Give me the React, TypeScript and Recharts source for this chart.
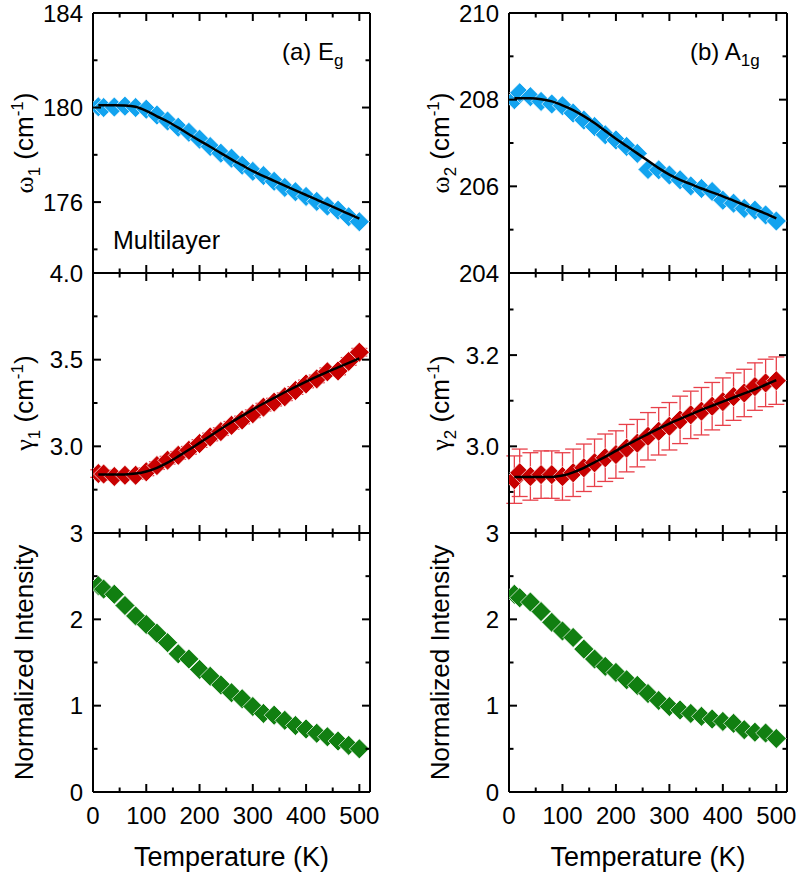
import React from "react"
import { ComposedChart, Scatter, XAxis, YAxis, ErrorBar } from "recharts"

const FONT = "'Liberation Sans', Arial, sans-serif"
const SYM = "'Liberation Serif', 'DejaVu Serif', serif"

// temperatures (K)
const temps = [10, 20, 40, 60, 80, 100, 120, 140, 160, 180, 200, 220, 240, 260, 280, 300, 320, 340, 360, 380, 400, 420, 440, 460, 480, 500]

// (a) Eg
const omega1 = [180.03, 180.0, 180.02, 180.06, 180.0, 179.93, 179.68, 179.43, 179.17, 178.95, 178.66, 178.35, 178.07, 177.86, 177.56, 177.3, 177.12, 176.88, 176.62, 176.44, 176.24, 176.03, 175.83, 175.66, 175.38, 175.17]
const omega1Fit = [180.1, 180.1, 180.1, 180.09, 180.03, 179.86, 179.63, 179.41, 179.15, 178.87, 178.6, 178.34, 178.07, 177.81, 177.56, 177.31, 177.1, 176.9, 176.7, 176.5, 176.3, 176.1, 175.9, 175.7, 175.5, 175.3]
const gamma1 = [2.843, 2.84, 2.826, 2.833, 2.833, 2.853, 2.889, 2.92, 2.948, 2.977, 3.016, 3.054, 3.085, 3.121, 3.152, 3.188, 3.226, 3.255, 3.286, 3.322, 3.36, 3.389, 3.43, 3.435, 3.49, 3.543]
const gamma1Err = [0.022, 0.022, 0.022, 0.022, 0.022, 0.022, 0.022, 0.022, 0.022, 0.022, 0.022, 0.022, 0.022, 0.022, 0.022, 0.022, 0.022, 0.022, 0.022, 0.022, 0.022, 0.022, 0.022, 0.022, 0.022, 0.022]
const gamma1Fit = [2.837, 2.837, 2.837, 2.838, 2.843, 2.855, 2.876, 2.906, 2.942, 2.98, 3.02, 3.06, 3.1, 3.139, 3.176, 3.212, 3.247, 3.28, 3.312, 3.343, 3.373, 3.402, 3.43, 3.456, 3.482, 3.508]
const intensity1 = [2.39, 2.35, 2.29, 2.16, 2.04, 1.94, 1.84, 1.73, 1.6, 1.54, 1.42, 1.34, 1.24, 1.15, 1.08, 0.99, 0.91, 0.89, 0.83, 0.77, 0.73, 0.68, 0.64, 0.59, 0.54, 0.5]

// (b) A1g
const omega2 = [208.0, 208.16, 208.07, 207.96, 207.9, 207.86, 207.69, 207.53, 207.38, 207.19, 207.07, 206.92, 206.76, 206.39, 206.38, 206.26, 206.15, 206.01, 205.95, 205.88, 205.68, 205.61, 205.49, 205.45, 205.34, 205.2]
const omega2Fit = [208.03, 208.03, 208.03, 208.01, 207.96, 207.87, 207.76, 207.62, 207.46, 207.28, 207.1, 206.93, 206.76, 206.59, 206.42, 206.27, 206.15, 206.05, 205.95, 205.86, 205.77, 205.67, 205.57, 205.47, 205.37, 205.26]
const gamma2 = [2.927, 2.942, 2.934, 2.938, 2.938, 2.934, 2.942, 2.953, 2.964, 2.975, 2.982, 2.996, 3.007, 3.022, 3.033, 3.044, 3.058, 3.069, 3.077, 3.088, 3.098, 3.109, 3.117, 3.131, 3.139, 3.144]
const gamma2Err = [0.052, 0.052, 0.052, 0.052, 0.052, 0.052, 0.052, 0.052, 0.052, 0.052, 0.052, 0.052, 0.052, 0.052, 0.052, 0.052, 0.052, 0.052, 0.052, 0.052, 0.052, 0.052, 0.052, 0.052, 0.052, 0.052]
const gamma2Fit = [2.933, 2.933, 2.933, 2.933, 2.933, 2.936, 2.943, 2.953, 2.965, 2.977, 2.99, 3.003, 3.015, 3.027, 3.039, 3.05, 3.06, 3.07, 3.08, 3.089, 3.098, 3.107, 3.116, 3.125, 3.135, 3.145]
const intensity2 = [2.29, 2.25, 2.2, 2.09, 1.965, 1.865, 1.79, 1.655, 1.54, 1.455, 1.385, 1.3, 1.235, 1.14, 1.06, 0.99, 0.95, 0.91, 0.876, 0.845, 0.818, 0.795, 0.722, 0.693, 0.683, 0.62]

const xTicks = [0, 50, 100, 150, 200, 250, 300, 350, 400, 450, 500]
const xMajor = [0, 100, 200, 300, 400, 500]

const BLUE = "#12a3ef"
const RED = "#c80000"
const GREEN = "#117f11"
const ERR = "#e8404a"

const near = (list: number[], v: number) => list.some((m) => Math.abs(m - v) < 1e-6)

const rows = (vals: number[], err?: number[]) =>
  temps.map((T, i) => ({ T, v: vals[i], e: err ? err[i] : 0 }))

function diamond(color: string) {
  return (p: any) => {
    const { cx, cy } = p
    const r = 10
    return (
      <path
        d={`M${cx},${cy - r}L${cx + r},${cy}L${cx},${cy + r}L${cx - r},${cy}Z`}
        fill={color}
        stroke="#fff"
        strokeWidth={0.7}
      />
    )
  }
}

const noDot = () => <g />

function yTick(side: "left" | "right", major: number[], labeled: number[], fmt: (v: number) => string) {
  return (p: any) => {
    const v = p.payload.value
    const len = near(major, v) ? 8 : 4.5
    const dir = side === "left" ? 1 : -1
    return (
      <g>
        <line x1={p.x} x2={p.x + dir * len} y1={p.y} y2={p.y} stroke="#000" strokeWidth={2} />
        {side === "left" && near(labeled, v) ? (
          <text x={p.x - 10} y={p.y} dy="0.36em" textAnchor="end" fontSize={24} fontFamily={FONT} fill="#000">
            {fmt(v)}
          </text>
        ) : null}
      </g>
    )
  }
}

function xTick(side: "top" | "bottom", showLabels: boolean) {
  return (p: any) => {
    const v = p.payload.value
    const len = near(xMajor, v) ? 8 : 4.5
    const dir = side === "top" ? 1 : -1
    return (
      <g>
        <line x1={p.x} x2={p.x} y1={p.y} y2={p.y + dir * len} stroke="#000" strokeWidth={2} />
        {side === "bottom" && showLabels && near(xMajor, v) ? (
          <text x={p.x} y={p.y + 32} textAnchor="middle" fontSize={24} fontFamily={FONT} fill="#000">
            {v}
          </text>
        ) : null}
      </g>
    )
  }
}

function RotTitle({ cx, cy, size = 26, children }: { cx: number; cy: number; size?: number; children: React.ReactNode }) {
  return (
    <text x={cx} y={cy} transform={`rotate(-90 ${cx} ${cy})`} textAnchor="middle" fontSize={size} fontFamily={FONT} fill="#000">
      {children}
    </text>
  )
}

const waveTitle = (sym: string, idx: string) => [
  <tspan key="s" fontFamily={SYM}>{sym}</tspan>,
  <tspan key="i" fontSize={17} dy={7}>{idx}</tspan>,
  <tspan key="a" dy={-7}> (cm</tspan>,
  <tspan key="b" fontSize={17} dy={-10}>-1</tspan>,
  <tspan key="c" dy={10}>)</tspan>,
]

type PanelProps = {
  colLeft: number
  plotLeft: number
  plotW: number
  plotTop: number
  plotH: number
  domain: [number, number]
  yTicks: number[]
  yMajor: number[]
  yLabeled: number[]
  fmt: (v: number) => string
  data: { T: number; v: number; e: number }[]
  fit?: { T: number; v: number }[]
  color: string
  withErr?: boolean
  titleX: number
  title: React.ReactNode
  showX?: boolean
  children?: React.ReactNode
}

function Panel(props: PanelProps) {
  const { colLeft, plotLeft, plotW, plotTop, plotH, domain, yTicks, yMajor, yLabeled, fmt, data, fit, color, withErr, titleX, title, showX, children } = props
  const leftW = plotLeft - colLeft
  const rightW = 10
  const topH = 13
  const bottomH = showX ? 82 : 13
  const width = leftW + plotW + rightW
  const height = topH + plotH + bottomH
  const cy = topH + plotH / 2
  const cx = titleX - colLeft

  return (
    <div style={{ position: "absolute", left: colLeft, top: plotTop - topH, width, height }}>
      <ComposedChart width={width} height={height} margin={{ top: 0, right: 0, bottom: 0, left: 0 }}>
        <XAxis
          xAxisId="b"
          type="number"
          dataKey="T"
          orientation="bottom"
          domain={[0, 520]}
          ticks={xTicks}
          interval={0}
          allowDataOverflow
          height={bottomH}
          tickSize={0}
          tickMargin={0}
          tickLine={false}
          axisLine={{ stroke: "#000", strokeWidth: 2 }}
          tick={xTick("bottom", !!showX)}
          label={
            showX
              ? {
                  content: () => (
                    <text x={leftW + plotW / 2} y={topH + plotH + 74} textAnchor="middle" fontSize={27} fontFamily={FONT} fill="#000">
                      Temperature (K)
                    </text>
                  ),
                }
              : undefined
          }
        />
        <XAxis
          xAxisId="t"
          type="number"
          dataKey="T"
          orientation="top"
          domain={[0, 520]}
          ticks={xTicks}
          interval={0}
          allowDataOverflow
          height={topH}
          tickSize={0}
          tickMargin={0}
          tickLine={false}
          axisLine={{ stroke: "#000", strokeWidth: 2 }}
          tick={xTick("top", false)}
        />
        <YAxis
          yAxisId="l"
          type="number"
          dataKey="v"
          orientation="left"
          domain={domain}
          ticks={yTicks}
          interval={0}
          allowDataOverflow
          width={leftW}
          tickSize={0}
          tickMargin={0}
          tickLine={false}
          axisLine={{ stroke: "#000", strokeWidth: 2 }}
          tick={yTick("left", yMajor, yLabeled, fmt)}
          label={{ content: () => <RotTitle cx={cx} cy={cy}>{title}</RotTitle> }}
        />
        <YAxis
          yAxisId="r"
          type="number"
          orientation="right"
          domain={domain}
          ticks={yTicks}
          interval={0}
          allowDataOverflow
          width={rightW}
          tickSize={0}
          tickMargin={0}
          tickLine={false}
          axisLine={{ stroke: "#000", strokeWidth: 2 }}
          tick={yTick("right", yMajor, yLabeled, fmt)}
        />
        <Scatter
          data={data}
          dataKey="v"
          xAxisId="b"
          yAxisId="l"
          fill={color}
          shape={diamond(color)}
          isAnimationActive={false}
        >
          {withErr ? <ErrorBar dataKey="e" direction="y" width={8} stroke={ERR} strokeWidth={1.3} /> : null}
        </Scatter>
        {fit ? (
          <Scatter
            data={fit}
            dataKey="v"
            xAxisId="b"
            yAxisId="l"
            line={{ stroke: "#000", strokeWidth: 2.5 }}
            lineJointType="monotone"
            shape={noDot}
            isAnimationActive={false}
          />
        ) : null}
        {children}
      </ComposedChart>
    </div>
  )
}

const int = (v: number) => String(v)
const one = (v: number) => v.toFixed(1)

export default function App() {
  const L = { colLeft: 0, plotLeft: 93, plotW: 277, titleX: 33 }
  const R = { colLeft: 400, plotLeft: 509, plotW: 278, titleX: 449 }
  return (
    <div style={{ position: "absolute", left: 0, top: 0, width: 797, height: 873, background: "#fff", overflow: "hidden" }}>
      <Panel
        {...L}
        plotTop={13}
        plotH={260}
        domain={[173, 184]}
        yTicks={[174, 176, 178, 180, 182, 184]}
        yMajor={[176, 180, 184]}
        yLabeled={[176, 180, 184]}
        fmt={int}
        data={rows(omega1)}
        fit={rows(omega1Fit)}
        color={BLUE}
        title={waveTitle("ω", "1")}
      >
        <text x={282} y={60} fontSize={24} fontFamily={FONT} fill="#000">
          (a) E<tspan fontSize={17} dy={6}>g</tspan>
        </text>
        <text x={113} y={249} fontSize={25} fontFamily={FONT} fill="#000">
          Multilayer
        </text>
      </Panel>
      <Panel
        {...L}
        plotTop={273}
        plotH={260}
        domain={[2.5, 4.0]}
        yTicks={[2.5, 2.75, 3.0, 3.25, 3.5, 3.75, 4.0]}
        yMajor={[2.5, 3.0, 3.5, 4.0]}
        yLabeled={[3.0, 3.5, 4.0]}
        fmt={one}
        data={rows(gamma1, gamma1Err)}
        fit={rows(gamma1Fit)}
        color={RED}
        withErr
        title={waveTitle("γ", "1")}
      />
      <Panel
        {...L}
        plotTop={533}
        plotH={259}
        domain={[0, 3]}
        yTicks={[0, 0.5, 1, 1.5, 2, 2.5, 3]}
        yMajor={[0, 1, 2, 3]}
        yLabeled={[0, 1, 2, 3]}
        fmt={int}
        data={rows(intensity1)}
        color={GREEN}
        title="Normalized Intensity"
        showX
      />
      <Panel
        {...R}
        plotTop={13}
        plotH={260}
        domain={[204, 210]}
        yTicks={[204, 205, 206, 207, 208, 209, 210]}
        yMajor={[204, 206, 208, 210]}
        yLabeled={[204, 206, 208, 210]}
        fmt={int}
        data={rows(omega2)}
        fit={rows(omega2Fit)}
        color={BLUE}
        title={waveTitle("ω", "2")}
      >
        <text x={290} y={60} fontSize={24} fontFamily={FONT} fill="#000">
          (b) A<tspan fontSize={17} dy={6}>1g</tspan>
        </text>
      </Panel>
      <Panel
        {...R}
        plotTop={273}
        plotH={260}
        domain={[2.81, 3.38]}
        yTicks={[2.9, 3.0, 3.1, 3.2, 3.3]}
        yMajor={[3.0, 3.2]}
        yLabeled={[3.0, 3.2]}
        fmt={one}
        data={rows(gamma2, gamma2Err)}
        fit={rows(gamma2Fit)}
        color={RED}
        withErr
        title={waveTitle("γ", "2")}
      />
      <Panel
        {...R}
        plotTop={533}
        plotH={259}
        domain={[0, 3]}
        yTicks={[0, 0.5, 1, 1.5, 2, 2.5, 3]}
        yMajor={[0, 1, 2, 3]}
        yLabeled={[0, 1, 2, 3]}
        fmt={int}
        data={rows(intensity2)}
        color={GREEN}
        title="Normalized Intensity"
        showX
      />
    </div>
  )
}
